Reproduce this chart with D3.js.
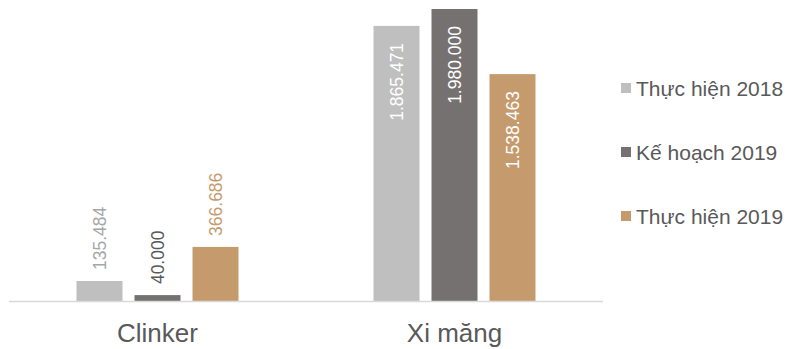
<!DOCTYPE html>
<html>
<head>
<meta charset="utf-8">
<script src="https://cdn.jsdelivr.net/npm/d3@7"></script>
<style>
  body { margin: 0; background: #fff; }
  svg { display: block; font-family: "Liberation Sans", Arial, sans-serif; }
</style>
</head>
<body>
<div class="chart"></div>
<script>
// data
const categories = ["Clinker", "Xi măng"];
const series = ["Thực hiện 2018", "Kế hoạch 2019", "Thực hiện 2019"];
const thucHien2018 = [135484, 1865471];
const keHoach2019 = [40000, 1980000];
const thucHien2019 = [366686, 1538463];
const labels2018 = ["135.484", "1.865.471"];
const labels2019KH = ["40.000", "1.980.000"];
const labels2019 = ["366.686", "1.538.463"];

const colors = ["#bfbfbf", "#767171", "#c59b6d"];
const outsideColors = ["#a6a6a6", "#595959", "#c59b6d"];

const showChart = () => {
  let width = 787,
      height = 349,
      baseY = 301;

  const values = [thucHien2018, keHoach2019, thucHien2019];
  const texts = [labels2018, labels2019KH, labels2019];

  const rows = [];
  categories.forEach((c, ci) => {
    series.forEach((s, si) => {
      rows.push({ cat: c, ci: ci, s: s, si: si, v: values[si][ci], t: texts[si][ci] });
    });
  });

  const svg = d3.select(".chart")
    .append("svg")
    .attr("width", width)
    .attr("height", height);

  const x0 = d3.scaleBand()
    .domain(categories)
    .range([9, 603]);

  const bw = x0.bandwidth();
  const x1 = d3.scaleBand()
    .domain(series)
    .range([(bw - 162) / 2, (bw + 162) / 2])
    .paddingInner(0.207);

  const y = d3.scaleLinear()
    .domain([0, 1980000])
    .range([baseY, 9]);

  // bars
  const bar = svg.selectAll("g.bar")
    .data(rows)
    .enter()
    .append("g")
    .attr("class", "bar")
    .attr("transform", d => "translate(" + (x0(d.cat) + x1(d.s)) + ",0)");

  bar.append("rect")
    .attr("y", d => y(d.v))
    .attr("width", x1.bandwidth())
    .attr("height", d => baseY - y(d.v))
    .attr("fill", d => colors[d.si]);

  // value labels, rotated
  bar.append("text")
    .attr("transform", d => {
      let cx = x1.bandwidth() / 2;
      return "translate(" + cx + "," + y(d.v) + ") rotate(-90)";
    })
    .attr("x", d => d.ci === 0 ? 11 : -17)
    .attr("dy", "0.35em")
    .attr("text-anchor", d => d.ci === 0 ? "start" : "end")
    .attr("font-size", "17.5px")
    .attr("fill", d => d.ci === 0 ? outsideColors[d.si] : "#ffffff")
    .text(d => d.t);

  // axis line
  svg.append("line")
    .attr("x1", x0.range()[0])
    .attr("x2", x0.range()[1])
    .attr("y1", baseY + 0.5)
    .attr("y2", baseY + 0.5)
    .attr("stroke", "#d9d9d9")
    .attr("stroke-width", 1.5);

  // category labels
  svg.selectAll("text.cat")
    .data(categories)
    .enter()
    .append("text")
    .attr("class", "cat")
    .attr("x", d => x0(d) + bw / 2)
    .attr("y", 342)
    .attr("text-anchor", "middle")
    .attr("font-size", "26px")
    .attr("fill", "#595959")
    .text(d => d);

  // legend
  const legend = svg.selectAll("g.legend")
    .data(series)
    .enter()
    .append("g")
    .attr("class", "legend")
    .attr("transform", (d, i) => "translate(621," + (88 + i * 64) + ")");

  legend.append("rect")
    .attr("x", 0)
    .attr("y", -5)
    .attr("width", 10)
    .attr("height", 10)
    .attr("fill", (d, i) => colors[i]);

  legend.append("text")
    .attr("x", 15)
    .attr("y", 7.5)
    .attr("font-size", "21px")
    .attr("fill", "#595959")
    .text(d => d);
};

showChart();
</script>
</body>
</html>
